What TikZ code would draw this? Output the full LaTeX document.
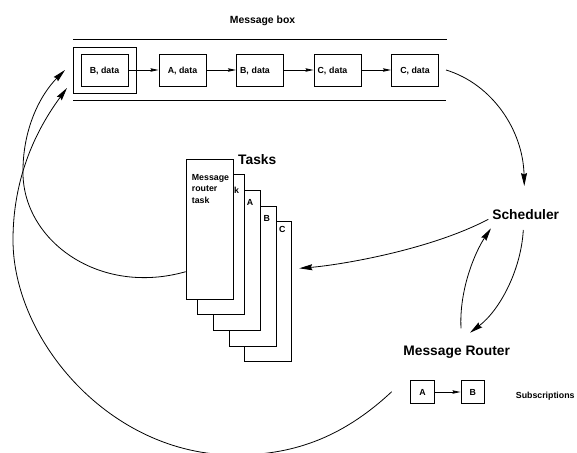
\documentclass[tikz,border=0pt]{standalone}
\usepackage{fontspec}
\setmainfont{Liberation Sans}
\usetikzlibrary{arrows.meta}
\begin{document}
\begin{tikzpicture}[x=1pt,y=-1pt,
  small/.style={font=\fontsize{8.8}{11.3}\selectfont\bfseries},
  title/.style={font=\fontsize{13.8}{16}\selectfont\bfseries, inner sep=0pt},
  msg/.style={draw, line width=0.9pt, fill=white, inner sep=0pt, small,
    minimum width=47pt, minimum height=32pt, text height=6.3pt, text depth=0pt},
  msgleft/.style={msg, align=left, text width=40pt, inner xsep=3.5pt},
  taskbox/.style={draw, line width=0.9pt, fill=white, anchor=north west,
    minimum width=47pt, minimum height=140pt, inner sep=0pt},
  subbox/.style={draw, line width=0.9pt, fill=white, inner sep=0pt, small,
    minimum width=23.5pt, minimum height=22.5pt, text height=6.3pt, text depth=0pt},
  link/.style={line width=0.8pt, -{Stealth[length=8pt,width=3.4pt,inset=1pt]}},
  flow/.style={line width=0.8pt, -{Stealth[length=13pt,width=6pt,inset=1.5pt]}},
  plain/.style={line width=0.8pt}
]
\useasboundingbox (0,0) rectangle (577,452);
\clip (0,0) rectangle (577,452);

% ---- message box ----
\node[title, font=\fontsize{10.4}{12}\selectfont\bfseries, anchor=base] (mbtitle) at (262.5,24) {Message box};
\coordinate (topL) at (73,39.5);   \coordinate (topR) at (447,39.5);
\coordinate (botL) at (73,100.7);  \coordinate (botR) at (446,100.7);
\draw[line width=0.9pt] (topL) -- (topR);
\draw[line width=0.9pt] (botL) -- (botR);

\node[draw, line width=0.9pt, minimum width=63pt, minimum height=46pt, inner sep=0pt] (outer) at (104.5,70) {};
\node[msg] (m1) at (104.5,70) {B, data};
\node[msg] (m2) at (182.5,70) {A, data};
\node[msgleft] (m3) at (260,70) {B, data};
\node[msgleft] (m4) at (337.5,70) {C, data};
\node[msg] (m5) at (415,70) {C, data};
\draw[link] (m1) -- (m2);
\draw[link] (m2) -- (m3);
\draw[link] (m3) -- (m4);
\draw[link] (m4) -- (m5);

% ---- tasks ----
\node[title, anchor=base west] (tasks) at (238,164) {Tasks};
\node[taskbox] (t4) at (244,221) {};
\node[small, anchor=base, inner sep=0pt] (lc) at (282.3,232) {C};
\node[taskbox] (t3) at (229,205.7) {};
\node[small, anchor=base, inner sep=0pt] (lb) at (266.7,221.5) {B};
\node[taskbox] (t2) at (213.3,190) {};
\node[small, anchor=base, inner sep=0pt] (la) at (250,205.7) {A};
\node[taskbox] (t1) at (197.3,174.3) {};
\node[small, anchor=base west, inner sep=0pt] (lk) at (234,193) {k};
\node[taskbox] (t0) at (185.7,159.3) {};
\node[small, anchor=north west, align=left, inner sep=0pt] (t0text) at (191.7,174.2) {Message\\router\\task};

% ---- scheduler and router ----
\node[title, anchor=base] (sched) at (525.7,219.3) {Scheduler};
\node[title, anchor=base] (router) at (456.7,355) {Message Router};

\node[subbox] (sa) at (422.5,392) {A};
\node[subbox] (sb) at (472.7,392) {B};
\draw[link] (sa) -- (sb);
\node[small, anchor=base west, inner sep=0pt] (subs) at (515.7,398) {Subscriptions};

% ---- connector ends ----
\coordinate (boxout) at (446,70);
\coordinate (schedin) at (524.3,186);
\coordinate (schedout) at (488.3,219.3);
\coordinate (tasksin) at (299.3,268.3);
\coordinate (schedlow) at (523.3,230);
\coordinate (routerin) at (470,332.7);
\coordinate (routerout) at (461,328.3);
\coordinate (schedback) at (491,228.3);
\coordinate (taskout) at (185.7,271.7);
\coordinate (subsout) at (391.7,391.7);
\coordinate (inA) at (65,70);
\coordinate (inB) at (67,88);

% ---- flows ----
\draw[flow] (boxout) .. controls (492,84) and (523,130) .. (schedin);
\draw[flow] (schedout) .. controls (430,250) and (340,265) .. (tasksin);
\draw[flow] (schedlow) .. controls (521,270) and (500,310) .. (routerin);
\draw[flow] (routerout) .. controls (459,290) and (475,252) .. (schedback);
\draw[flow] (taskout) .. controls (100,296) and (25,242) .. (23,175)
  .. controls (22,130) and (40,95) .. (inA);
\draw[flow] (subsout) .. controls (340,440) and (290,455) .. (235,455)
  .. controls (110,455) and (13,340) .. (13,240)
  .. controls (13,170) and (42,122) .. (inB);
\end{tikzpicture}
\end{document}
